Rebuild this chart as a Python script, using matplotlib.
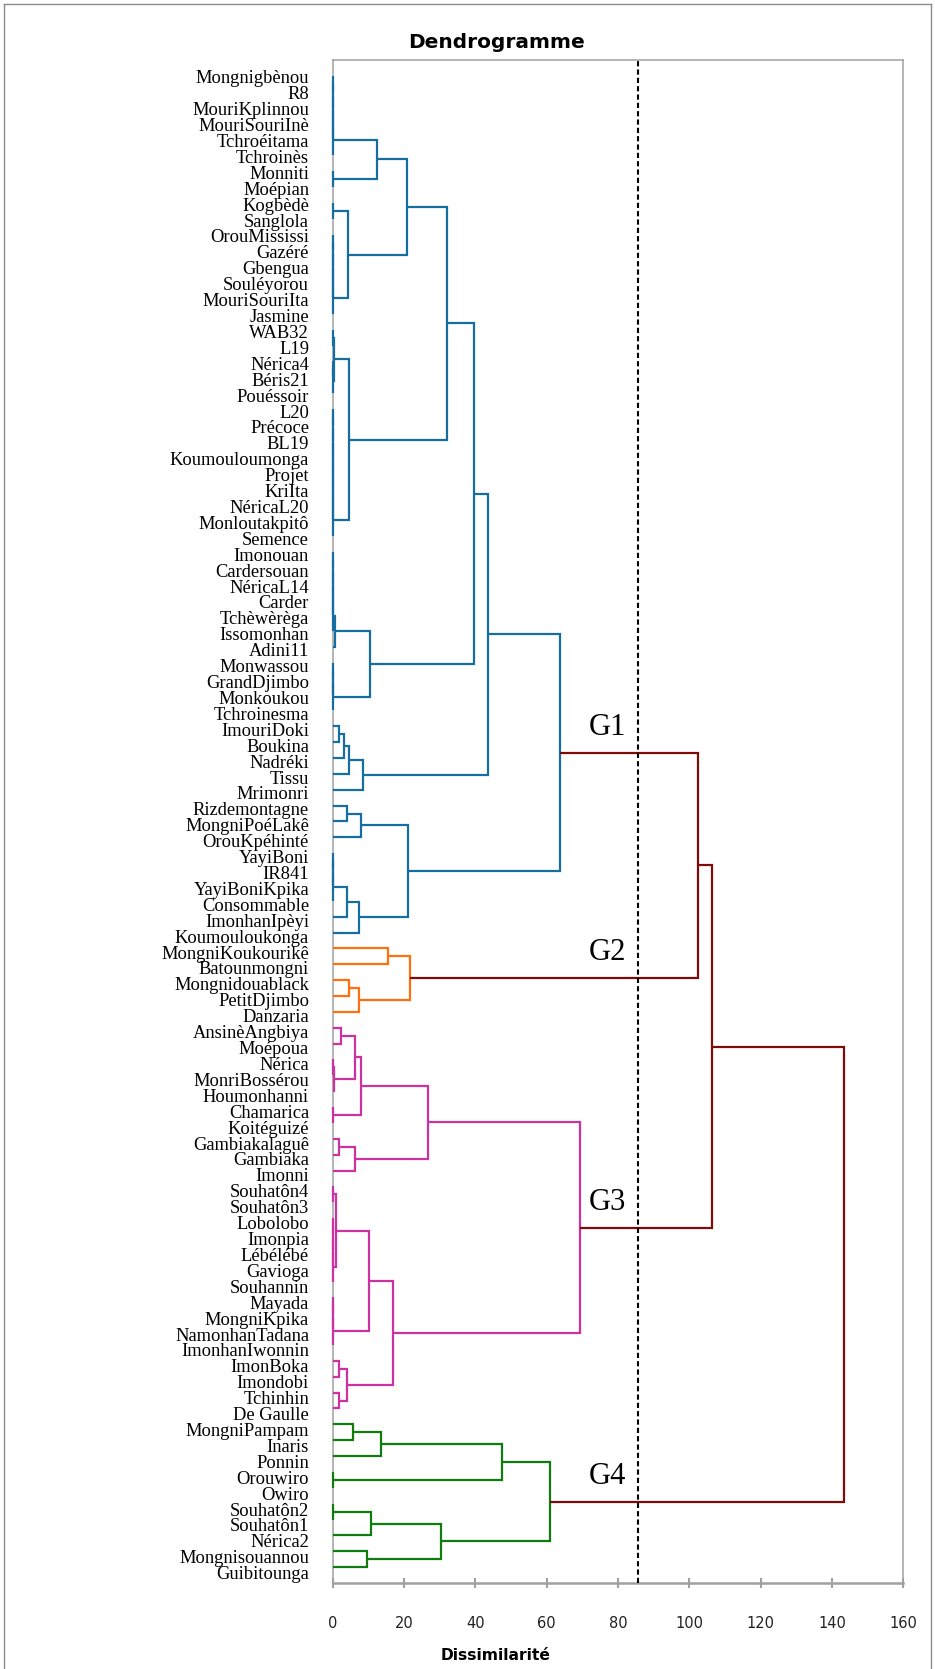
import matplotlib
matplotlib.use("Agg")
import matplotlib.pyplot as plt
from matplotlib.lines import Line2D

# ---------------- data ----------------
labels = [
    "Mongnigbènou", "R8", "MouriKplinnou", "MouriSouriInè", "Tchroéitama",
    "Tchroinès", "Monniti", "Moépian", "Kogbèdè", "Sanglola",
    "OrouMississi", "Gazéré", "Gbengua", "Souléyorou", "MouriSouriIta",
    "Jasmine", "WAB32", "L19", "Nérica4", "Béris21",
    "Pouéssoir", "L20", "Précoce", "BL19", "Koumouloumonga",
    "Projet", "KriIta", "NéricaL20", "Monloutakpitô", "Semence",
    "Imonouan", "Cardersouan", "NéricaL14", "Carder", "Tchèwèrèga",
    "Issomonhan", "Adini11", "Monwassou", "GrandDjimbo", "Monkoukou",
    "Tchroinesma", "ImouriDoki", "Boukina", "Nadréki", "Tissu",
    "Mrimonri", "Rizdemontagne", "MongniPoéLakê", "OrouKpéhinté", "YayiBoni",
    "IR841", "YayiBoniKpika", "Consommable", "ImonhanIpèyi", "Koumouloukonga",
    "MongniKoukourikê", "Batounmongni", "Mongnidouablack", "PetitDjimbo", "Danzaria",
    "AnsinèAngbiya", "Moépoua", "Nérica", "MonriBossérou", "Houmonhanni",
    "Chamarica", "Koitéguizé", "Gambiakalaguê", "Gambiaka", "Imonni",
    "Souhatôn4", "Souhatôn3", "Lobolobo", "Imonpia", "Lébélébé",
    "Gavioga", "Souhannin", "Mayada", "MongniKpika", "NamonhanTadana",
    "ImonhanIwonnin", "ImonBoka", "Imondobi", "Tchinhin", "De Gaulle",
    "MongniPampam", "Inaris", "Ponnin", "Orouwiro", "Owiro",
    "Souhatôn2", "Souhatôn1", "Nérica2", "Mongnisouannou", "Guibitounga",
]

# runs of consecutive leaves (1-based) joined at dissimilarity 0
zero_runs = [(1, 6), (7, 8), (9, 10), (11, 16), (17, 18), (19, 21), (22, 30),
             (31, 36), (38, 41), (50, 53), (63, 64), (66, 67), (71, 72),
             (73, 77), (78, 81), (89, 90), (91, 92)]

# agglomeration steps: (node name, child A, child B, dissimilarity)
merges = [
    ("m1", "z1", "z7", 12.3), ("m2", "z9", "z11", 4.4), ("m3", "m1", "m2", 20.7),
    ("m4", "z17", "z19", 0.5), ("m5", "m4", "z22", 4.6), ("m6", "m3", "m5", 32.0),
    ("m7", "z31", 37, 0.6), ("m8", "m7", "z38", 10.5), ("m9", "m6", "m8", 39.6),
    ("m10", 42, 43, 1.8), ("m11", "m10", 44, 3.3), ("m12", "m11", 45, 4.6),
    ("m13", "m12", 46, 8.4), ("m14", "m9", "m13", 43.6),
    ("m15", 47, 48, 3.9), ("m16", "m15", 49, 7.8), ("m17", "z50", 54, 3.9),
    ("m18", "m17", 55, 7.4), ("m19", "m16", "m18", 21.2),
    ("G1", "m14", "m19", 63.7),
    ("m20", 56, 57, 15.6), ("m21", 58, 59, 4.6), ("m22", "m21", 60, 7.5),
    ("G2", "m20", "m22", 21.7),
    ("m23", 61, 62, 2.3), ("m24", "z63", 65, 0.5), ("m25", "m23", "m24", 6.2),
    ("m26", "m25", "z66", 7.8), ("m27", 68, 69, 1.8), ("m28", "m27", 70, 6.2),
    ("m29", "m26", "m28", 26.8), ("m30", "z71", "z73", 0.9),
    ("m31", "m30", "z78", 10.1), ("m32", 82, 83, 1.8), ("m33", 84, 85, 1.8),
    ("m34", "m32", "m33", 3.9), ("m35", "m31", "m34", 17.0),
    ("G3", "m29", "m35", 69.3),
    ("m36", 86, 87, 5.6), ("m37", "m36", 88, 13.5), ("m38", "m37", "z89", 47.6),
    ("m39", "z91", 93, 10.6), ("m40", 94, 95, 9.5), ("m41", "m39", "m40", 30.3),
    ("G4", "m38", "m41", 61.0),
    ("G12", "G1", "G2", 102.3), ("G123", "G12", "G3", 106.3),
    ("root", "G123", "G4", 143.3),
]

groups = ["G1", "G2", "G3", "G4"]
group_ranges = [(1, 55), (56, 60), (61, 85), (86, 95)]
group_colors = ["#166ea0", "#ff6e0f", "#cc33a0", "#107c10"]
link_color = "#7f0a0a"
cut_level = 85.5
xticks = [0, 20, 40, 60, 80, 100, 120, 140, 160]

# ---------------- figure ----------------
W, H = 935, 1669
fig = plt.figure(figsize=(W / 100, H / 100), dpi=100)
ax = fig.add_axes([332.7 / W, 1 - 1583 / H, (903.3 - 332.7) / W, (1583 - 60) / H])
n = len(labels)
ax.set_xlim(0, 160)
ax.set_ylim(n + 1, 0)

spine_c = "#a0a0a0"
for s in ["left", "top", "right"]:
    ax.spines[s].set_color(spine_c)
    ax.spines[s].set_linewidth(1.1)
ax.spines["bottom"].set_color(spine_c)
ax.spines["bottom"].set_linewidth(1.8)
ax.set_yticks([])
ax.set_xticks(xticks)
ax.set_xticklabels([str(t) for t in xticks], fontsize=10.5, family="DejaVu Sans",
                   color="#222222")
ax.tick_params(axis="x", direction="inout", length=7, width=1.5, color=spine_c, pad=20)


def color_for(lo, hi):
    for (a, b), c in zip(group_ranges, group_colors):
        if a <= lo and hi <= b:
            return c
    return link_color


LW = 1.6
nodes = {}
for i in range(1, n + 1):
    nodes[i] = (float(i), 0.0, i, i)

for a, b in zero_runs:
    p = float(a)
    c = color_for(a, b)
    for j in range(a + 1, b + 1):
        ax.plot([0, 0], [p, j], color=c, lw=LW, clip_on=False, zorder=3,
                solid_capstyle="butt")
        p = (p + j) / 2
    nodes["z%d" % a] = (p, 0.0, a, b)

for name, ca, cb, h in merges:
    p1, h1, lo1, hi1 = nodes[ca]
    p2, h2, lo2, hi2 = nodes[cb]
    lo, hi = min(lo1, lo2), max(hi1, hi2)
    c = color_for(lo, hi)
    ax.plot([h1, h, h, h2], [p1, p1, p2, p2], color=c, lw=LW, clip_on=False,
            zorder=3, solid_joinstyle="miter", solid_capstyle="butt")
    nodes[name] = ((p1 + p2) / 2, h, lo, hi)

# truncation line
ax.axvline(cut_level, color="black", lw=1.5, ls=(0, (2.5, 1.5)), zorder=4)

# group labels
for g in groups:
    p = nodes[g][0]
    ax.text(77, p - 1.6, g, ha="center", va="center", fontsize=22,
            family="Liberation Serif", color="black", zorder=5)

# leaf labels
for i, name in enumerate(labels, 1):
    ax.text(-6.65, i + 0.47 + 0.0031 * (i - 1), name, ha="right", va="baseline",
            fontsize=13.3, family="Liberation Serif", color="black", clip_on=False)

# titles
fig.text(496 / W, 1 - 42 / H, "Dendrogramme", ha="center", va="center",
         fontsize=14.5, fontweight="bold", family="DejaVu Sans")
fig.text(496 / W, 1 - 1655 / H, "Dissimilarité", ha="center", va="center",
         fontsize=11.2, fontweight="bold", family="DejaVu Sans")

# chart-area border
bc = "#8c8c8c"
fig.add_artist(Line2D([4 / W, 4 / W], [0, 1 - 4 / H], transform=fig.transFigure, color=bc, lw=1))
fig.add_artist(Line2D([4 / W, 931 / W], [1 - 4 / H, 1 - 4 / H], transform=fig.transFigure, color=bc, lw=1))
fig.add_artist(Line2D([931 / W, 931 / W], [0, 1 - 4 / H], transform=fig.transFigure, color=bc, lw=1))

fig.savefig("out.png", dpi=100)
